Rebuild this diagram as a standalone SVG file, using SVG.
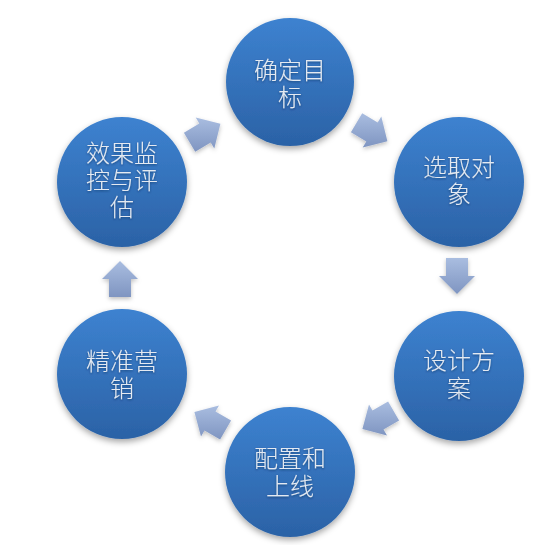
<svg xmlns="http://www.w3.org/2000/svg" width="558" height="545" viewBox="0 0 558 545">
<defs>
<linearGradient id="cg" x1="0" y1="0" x2="0" y2="1">
<stop offset="0" stop-color="#3d82d0"/>
<stop offset="1" stop-color="#2b62a6"/>
</linearGradient>
<linearGradient id="ag" x1="0" y1="0" x2="0" y2="1">
<stop offset="0" stop-color="#a9bde0"/>
<stop offset="1" stop-color="#7f95c1"/>
</linearGradient>
<filter id="sh" x="-20%" y="-20%" width="140%" height="150%">
<feDropShadow dx="0" dy="3" stdDeviation="3" flood-color="#000" flood-opacity="0.35"/>
</filter>
<filter id="ash" x="-30%" y="-30%" width="160%" height="160%">
<feGaussianBlur in="SourceGraphic" stdDeviation="0.6" result="b"/>
<feDropShadow in="b" dx="0" dy="2" stdDeviation="2" flood-color="#000" flood-opacity="0.25"/>
</filter>
<filter id="tsh" x="-10%" y="-10%" width="120%" height="130%">
<feDropShadow dx="0" dy="1" stdDeviation="0.8" flood-color="#0a2850" flood-opacity="0.6"/>
</filter>
</defs>
<style>
.c{fill:url(#cg);filter:url(#sh)}
.a{fill:url(#ag);filter:url(#ash)}
.t{font-family:"Noto Sans CJK SC","Noto Sans",sans-serif;font-size:24px;font-weight:300;fill:#e4eaf2;text-anchor:middle;filter:url(#tsh)}
</style>
<rect width="558" height="545" fill="#ffffff"/>
<g id="connectors">
<polygon class="a" points="362.2,113.3 377.7,122.6 381.3,116.6 387.4,141.3 362.7,147.4 366.3,141.4 350.9,132.2"/>
<polygon class="a" points="468,258 468,276 475,276 457,294 439,276 446,276 446,258"/>
<polygon class="a" points="399.1,420.5 383.5,429.5 387,435.6 362.4,429 369,404.4 372.5,410.5 388.1,401.5"/>
<polygon class="a" points="220.1,439.5 204.5,430.5 201,436.6 194.4,412 219,405.4 215.5,411.5 231.1,420.5"/>
<polygon class="a" points="109,297 109,279 102,279 120,261 138,279 131,279 131,297"/>
<polygon class="a" points="183.9,132.8 199.3,123.6 195.7,117.6 220.4,123.7 214.3,148.4 210.7,142.4 195.2,151.7"/>
</g>
<g id="n1">
<circle class="c" cx="290" cy="82" r="64"/>
<text class="t" x="290" y="79">确定目<tspan x="290" dy="27">标</tspan></text>
</g>
<g id="n2">
<circle class="c" cx="459" cy="182" r="65"/>
<text class="t" x="459" y="176">选取对<tspan x="459" dy="27">象</tspan></text>
</g>
<g id="n3">
<circle class="c" cx="459" cy="376" r="65"/>
<text class="t" x="459" y="369">设计方<tspan x="459" dy="28">案</tspan></text>
</g>
<g id="n4">
<circle class="c" cx="290" cy="472" r="65"/>
<text class="t" x="290" y="467">配置和<tspan x="290" dy="28">上线</tspan></text>
</g>
<g id="n5">
<circle class="c" cx="122" cy="374" r="65"/>
<text class="t" x="122" y="370">精准营<tspan x="122" dy="27">销</tspan></text>
</g>
<g id="n6">
<circle class="c" cx="122" cy="182" r="65"/>
<text class="t" x="122" y="162">效果监<tspan x="122" dy="27">控与评</tspan><tspan x="122" dy="27">估</tspan></text>
</g>
</svg>
